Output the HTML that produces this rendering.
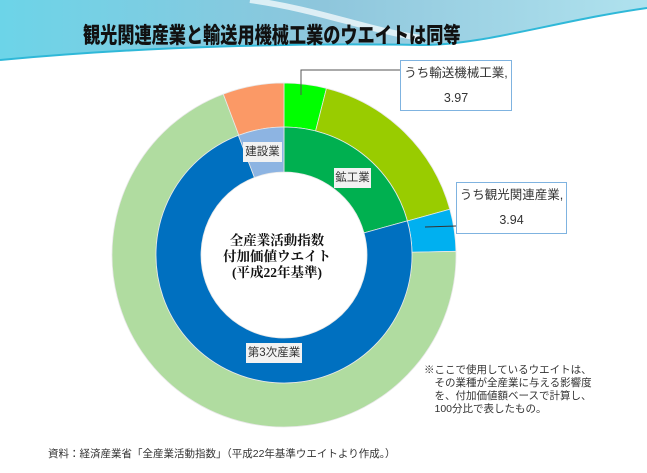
<!DOCTYPE html>
<html><head><meta charset="utf-8">
<style>
html,body{margin:0;padding:0;background:#fff;}
body{width:647px;height:473px;position:relative;overflow:hidden;font-family:"Liberation Sans","Noto Sans CJK JP",sans-serif;}
.abs{position:absolute;}
.title{left:83px;top:18px;font-family:"Liberation Sans","Noto Sans CJK JP",sans-serif;font-weight:900;font-size:22px;color:#111;white-space:nowrap;transform:scaleX(0.78);transform-origin:left top;}
.callout{background:#fff;border:1.5px solid #7fb3e0;font-size:12.5px;color:#333;text-align:center;line-height:25px;box-sizing:border-box;}
.lbl{background:#f2f2f2;font-size:11.5px;color:#333;text-align:center;line-height:20px;}
.note{left:424px;top:364px;font-size:10.5px;color:#333;line-height:13px;white-space:nowrap;}
.src{left:48px;top:446px;font-size:10.5px;color:#333;white-space:nowrap;}
.center{left:222px;top:233px;width:110px;text-align:center;font-family:"Liberation Serif","Noto Serif CJK SC",serif;font-weight:bold;font-size:13.5px;line-height:16px;color:#111;}
</style></head><body>
<svg class="abs" style="left:0;top:0" width="647" height="473">
  <defs>
    <linearGradient id="bg" x1="0" y1="0" x2="1" y2="0">
      <stop offset="0" stop-color="#6cd4e8"/><stop offset="0.5" stop-color="#8ec6dc"/><stop offset="1" stop-color="#b0e2ee"/>
    </linearGradient>
  </defs>
  <path d="M0 0 H647 V8 C560 20 480 46 420 45 C300 43 150 46 0 60 Z" fill="url(#bg)"/>
  <path d="M0 60 C150 46 300 43 420 45 C480 46 560 20 647 8" fill="none" stroke="#2fb8d8" stroke-width="2"/>
  <path d="M250 0 C320 10 360 28 420 38" fill="none" stroke="#fff" stroke-width="6" opacity="0.7"/>
  <g id="rings"></g>
  <polyline points="301,95 301,70 400,70" fill="none" stroke="#555" stroke-width="1"/>
  <line x1="425" y1="227" x2="456" y2="226" stroke="#333" stroke-width="1"/>
</svg>
<div class="abs title">観光関連産業と輸送用機械工業のウエイトは同等</div>
<div class="abs callout" style="left:400px;top:60px;width:112px;height:51px;">うち輸送機械工業,<br>3.97</div>
<div class="abs callout" style="left:456px;top:182px;width:111px;height:52px;">うち観光関連産業,<br>3.94</div>
<div class="abs lbl" style="left:243px;top:142px;width:39px;">建設業</div>
<div class="abs lbl" style="left:334px;top:168px;width:37px;">鉱工業</div>
<div class="abs lbl" style="left:246px;top:343px;width:56px;">第3次産業</div>
<div class="abs center">全産業活動指数<br>付加価値ウエイト<br>(平成22年基準)</div>
<div class="abs note">※ここで使用しているウエイトは、<br>　その業種が全産業に与える影響度<br>　を、付加価値額ベースで計算し、<br>　100分比で表したもの。</div>
<div class="abs src">資料：経済産業省「全産業活動指数」（平成22年基準ウエイトより作成。）</div>
<script>
const innerCategories = ["鉱工業","第3次産業","建設業"];
const innerValues = [20.7, 73.5, 5.8];
const innerColors = ["#00b050","#0070c0","#8db4e2"];
const outerCategories = ["うち輸送機械工業","その他鉱工業","うち観光関連産業","その他第3次産業","建設業"];
const outerValues = [3.97, 16.75, 3.94, 69.6, 5.74];
const outerColors = ["#00ff00","#99cc00","#00b0f0","#b0dca0","#fb9966"];
const CX = 284, CY = 255;
function pt(r, a){ const t = a*Math.PI/180; return [CX + r*Math.sin(t), CY - r*Math.cos(t)]; }
function arc(r0, r1, a0, a1){
  const large = (a1-a0) > 180 ? 1 : 0;
  const p0 = pt(r1,a0), p1 = pt(r1,a1), p2 = pt(r0,a1), p3 = pt(r0,a0);
  return `M${p0[0]},${p0[1]} A${r1},${r1} 0 ${large} 1 ${p1[0]},${p1[1]} L${p2[0]},${p2[1]} A${r0},${r0} 0 ${large} 0 ${p3[0]},${p3[1]} Z`;
}
const g = document.getElementById('rings');
function ring(vals, cols, cats, r0, r1, prefix){
  const total = vals.reduce((a,b)=>a+b,0);
  let a = 0;
  vals.forEach((v,i)=>{
    const a1 = a + v/total*360;
    const p = document.createElementNS('http://www.w3.org/2000/svg','path');
    p.setAttribute('d', arc(r0, r1, a, a1));
    p.setAttribute('fill', cols[i]);
    p.setAttribute('stroke', '#e8e8e8');
    p.setAttribute('stroke-width', '0.8');
    
    
    g.appendChild(p);
    a = a1;
  });
}
ring(outerValues, outerColors, outerCategories, 128, 172, 'outer');
ring(innerValues, innerColors, innerCategories, 83, 128, 'inner');
</script>
</body></html>
